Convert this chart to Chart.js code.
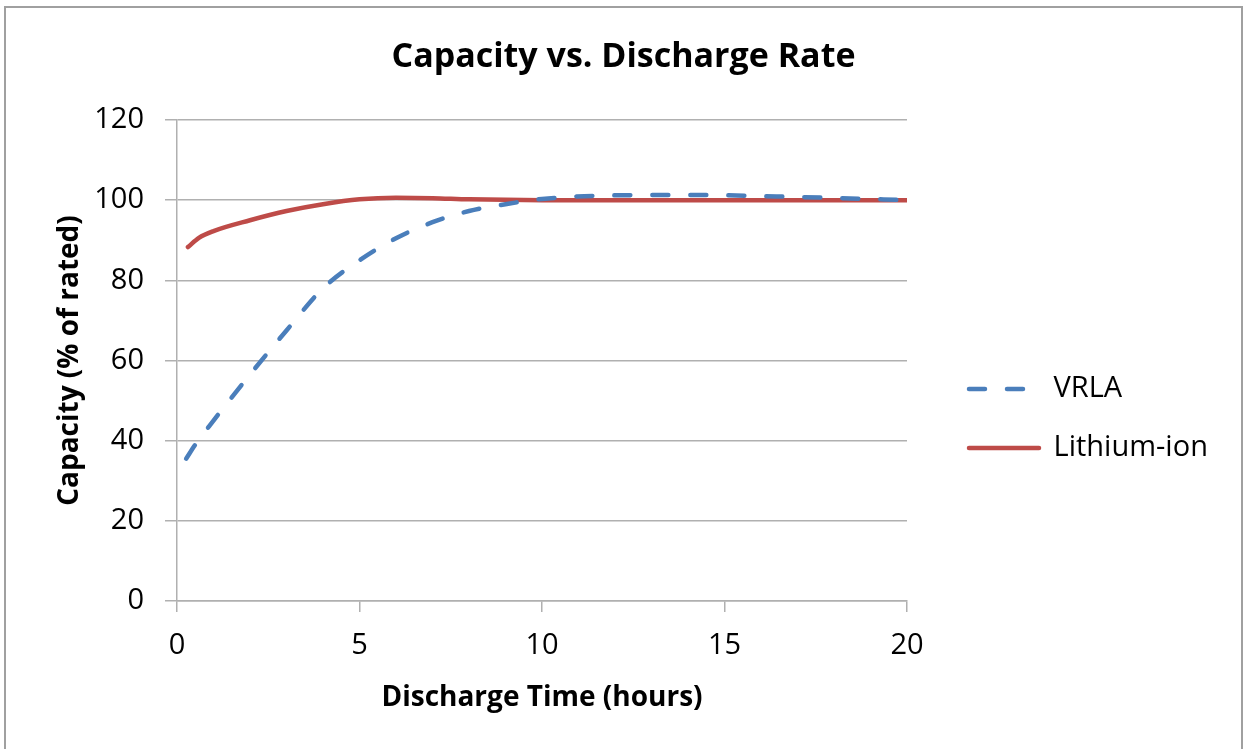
<!DOCTYPE html>
<html>
<head>
<meta charset="utf-8">
<script src="https://cdn.jsdelivr.net/npm/chart.js@4.4.1/dist/chart.umd.min.js"></script>
<style>
  body { margin: 0; background: #fff; }
  #wrap { position: absolute; left: 0; top: 0; width: 1247px; height: 749px; }
  #frame { position: absolute; left: 4px; top: 6px; width: 1235px; height: 760px; border: 2px solid #a0a0a0; pointer-events: none; }
</style>
</head>
<body>
<div id="wrap"><canvas id="grafico" width="1247" height="749"></canvas></div>
<div id="frame"></div>
<script>
// valori
const vrlaHours = [0.25, 0.5, 1, 2, 3, 4, 5, 6, 7, 8, 9, 10, 12, 14, 17, 20];
const vrlaCap   = [35.5, 39, 45, 56.5, 67.5, 78, 85, 90.5, 94.5, 97.3, 99, 100.3, 101.2, 101.3, 100.8, 100];
const liHours   = [0.3, 0.6, 1, 2, 3, 4, 5, 6, 7, 8, 10, 20];
const liCap     = [88.3, 90.6, 92.3, 95, 97.3, 99, 100.2, 100.6, 100.5, 100.2, 100, 100];
const xTicks = [0, 5, 10, 15, 20];
const yTicks = [0, 20, 40, 60, 80, 100, 120];

const FONT = "'Open Sans', 'Noto Sans', sans-serif";
const toPts = (xs, ys) => xs.map((x, i) => ({ x: x, y: ys[i] }));

// legenda a destra: larghezza fissa e posizione fissa
const legendPos = {
  id: 'legendPos',
  beforeLayout(chart) {
    const lg = chart.legend;
    if (!lg || lg._fixed) return;
    const fit = lg.fit.bind(lg);
    lg.fit = function () { fit(); this.width = 1247 - 907; };
    lg._fixed = true;
  },
  afterLayout(chart) {
    const lg = chart.legend;
    if (!lg) return;
    const pad = lg.options.labels.padding;
    lg.left = 969 - pad;
    lg.top = 389 - 14.5 - pad;
  }
};

const ctx = document.getElementById('grafico').getContext('2d');

new Chart(ctx, {
  type: 'scatter',
  data: {
    datasets: [{
      label: 'VRLA',
      data: toPts(vrlaHours, vrlaCap),
      showLine: true,
      borderColor: '#4a7ebb',
      backgroundColor: '#4a7ebb',
      borderWidth: 4.5,
      borderDash: [16, 22],
      borderCapStyle: 'round',
      cubicInterpolationMode: 'monotone',
      pointRadius: 0,
      pointStyle: 'line'
    }, {
      label: 'Lithium-ion',
      data: toPts(liHours, liCap),
      showLine: true,
      borderColor: '#be4b48',
      backgroundColor: '#be4b48',
      borderWidth: 4.5,
      borderCapStyle: 'round',
      cubicInterpolationMode: 'monotone',
      pointRadius: 0,
      pointStyle: 'line'
    }]
  },
  options: {
    responsive: false,
    animation: false,
    devicePixelRatio: 1,
    layout: { padding: 0 },
    plugins: {
      title: {
        display: true,
        text: 'Capacity vs. Discharge Rate',
        color: '#000',
        font: { family: FONT, size: 34, weight: 'bold', lineHeight: 1.2 },
        padding: { top: 36.6, bottom: 42.6 }
      },
      legend: {
        position: 'right',
        align: 'start',
        labels: {
          color: '#000',
          font: { family: FONT, size: 29 },
          usePointStyle: true,
          pointStyleWidth: 70,
          padding: 30,
          // tratteggio anche nella legenda
          generateLabels: chart => Chart.defaults.plugins.legend.labels.generateLabels(chart).map(item => {
            const ds = chart.data.datasets[item.datasetIndex];
            item.lineDash = ds.borderDash || [];
            item.lineCap = 'round';
            return item;
          })
        }
      },
      tooltip: { enabled: false }
    },
    scales: {
      x: {
        type: 'linear',
        min: xTicks[0], max: xTicks[xTicks.length - 1],
        afterFit: s => { s.height = 148; },
        ticks: { stepSize: xTicks[1] - xTicks[0], color: '#000', font: { family: FONT, size: 29 }, padding: 16 },
        grid: { drawOnChartArea: false, drawTicks: true, tickLength: 11, color: '#b0b0b0', lineWidth: 1.5 },
        border: { display: true, color: '#b0b0b0', width: 1.5 },
        title: {
          display: true,
          text: 'Discharge Time (hours)',
          color: '#000',
          font: { family: FONT, size: 28, weight: 'bold', lineHeight: 1.2 },
          padding: { top: 0, bottom: 34 }
        }
      },
      y: {
        type: 'linear',
        min: yTicks[0], max: yTicks[yTicks.length - 1],
        afterFit: s => { s.width = 177; },
        ticks: { stepSize: yTicks[1] - yTicks[0], color: '#000', font: { family: FONT, size: 29 }, padding: 21 },
        grid: { drawOnChartArea: true, drawTicks: true, tickLength: 12, color: '#b0b0b0', lineWidth: 1.5 },
        border: { display: true, color: '#b0b0b0', width: 1.5 },
        title: {
          display: true,
          text: 'Capacity (% of rated)',
          color: '#000',
          font: { family: FONT, size: 28, weight: 'bold', lineHeight: 1.2 },
          padding: { top: 53, bottom: 0 }
        }
      }
    }
  },
  plugins: [legendPos]
});
</script>
</body>
</html>
